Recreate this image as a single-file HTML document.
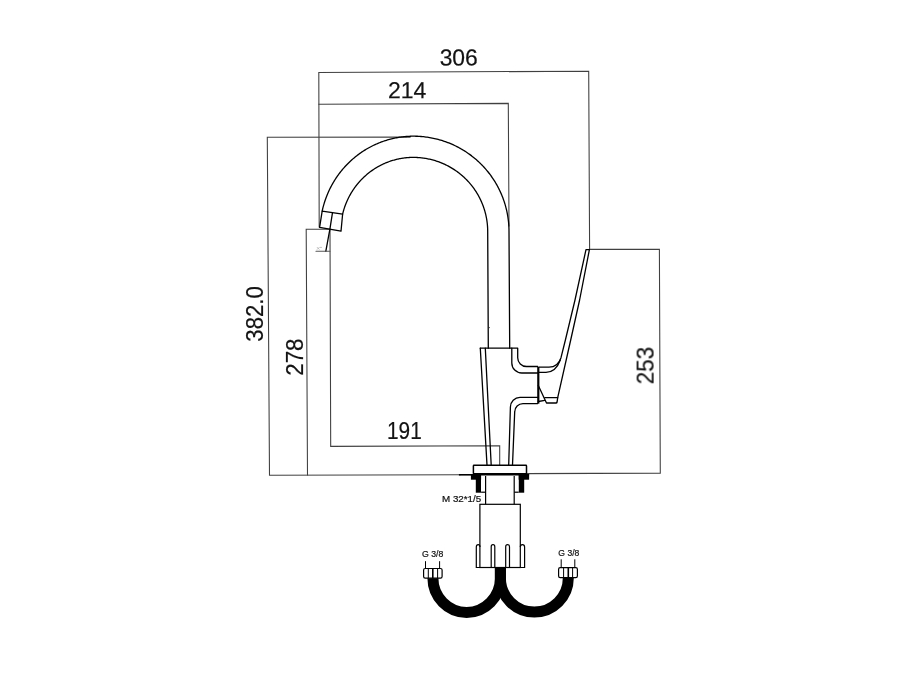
<!DOCTYPE html>
<html><head><meta charset="utf-8">
<style>
html,body{margin:0;padding:0;background:#fff;}
body{width:900px;height:679px;overflow:hidden;font-family:"Liberation Sans",sans-serif;}
svg{display:block;position:absolute;left:0;top:0;opacity:0.999;}
text{font-family:"Liberation Sans",sans-serif;}
</style></head>
<body>
<svg width="900" height="679" viewBox="0 0 900 679">
<rect width="900" height="679" fill="#fff"/>
<!-- dimension lines -->
<g fill="none" stroke="#404040" stroke-width="1.08" stroke-linecap="square">
<path d="M319.2,227 L318.8,72.5 L588.7,71.2 L589.6,249.4"/>
<path d="M318.9,104.2 L508.3,103.4 L509,226"/>
<path d="M410,137.1 L267.3,137.3 L269.5,475.2 L460,474.8"/>
<path d="M329.5,229.2 L306.2,229.2 L307.5,475"/>
<path d="M330,229.3 L330.7,446.4 L499.7,445.7 L499.7,465"/>
<path d="M589.4,249.4 L659.4,249.4 L660.3,473.1 L527,473.6"/>
</g>
<!-- faucet -->
<g fill="none" stroke="#000" stroke-width="1.3" stroke-linejoin="round" stroke-linecap="round">
<path d="M322.17,211.10 L322.40,210.05 L322.64,209.00 L322.90,207.96 L323.16,206.92 L323.44,205.88 L323.73,204.84 L324.03,203.81 L324.35,202.78 L324.67,201.76 L325.00,200.74 L325.35,199.72 L325.71,198.71 L326.08,197.70 L326.46,196.70 L326.85,195.70 L327.25,194.70 L327.66,193.71 L328.09,192.73 L328.52,191.75 L328.97,190.77 L329.43,189.80 L329.89,188.84 L330.37,187.88 L330.86,186.92 L331.36,185.98 L331.87,185.03 L332.39,184.10 L332.92,183.17 L333.46,182.24 L334.01,181.32 L334.57,180.41 L335.14,179.51 L335.72,178.61 L336.31,177.72 L336.91,176.83 L337.52,175.95 L338.15,175.08 L338.77,174.22 L339.41,173.36 L340.06,172.51 L340.72,171.67 L341.39,170.84 L342.07,170.01 L342.75,169.19 L343.45,168.38 L344.15,167.58 L344.86,166.79 L345.58,166.00 L346.31,165.22 L347.05,164.45 L347.80,163.69 L348.55,162.94 L349.32,162.20 L350.09,161.46 L350.87,160.74 L351.66,160.02 L352.45,159.32 L353.26,158.62 L354.07,157.93 L354.89,157.25 L355.71,156.58 L356.55,155.92 L357.39,155.27 L358.24,154.63 L359.09,154.00 L359.95,153.38 L360.82,152.76 L361.70,152.16 L362.58,151.57 L363.47,150.99 L364.36,150.42 L365.27,149.86 L366.17,149.31 L367.09,148.77 L368.01,148.24 L368.93,147.72 L369.86,147.22 L370.80,146.72 L371.74,146.23 L372.69,145.76 L373.64,145.29 L374.60,144.84 L375.56,144.40 L376.53,143.97 L377.50,143.55 L378.48,143.14 L379.46,142.74 L380.44,142.35 L381.43,141.98 L382.43,141.62 L383.43,141.26 L384.43,140.92 L385.43,140.60 L386.44,140.28 L387.45,139.97 L388.47,139.68 L389.49,139.40 L390.51,139.13 L391.53,138.87 L392.56,138.62 L393.59,138.39 L394.63,138.16 L395.66,137.95 L396.70,137.75 L397.74,137.56 L398.78,137.39 L399.82,137.23 L400.87,137.07 L401.92,136.93 L402.96,136.81 L404.01,136.69 L405.06,136.59 L406.12,136.50 L407.17,136.42 L408.22,136.35 L409.28,136.30 L410.33,136.25 L411.39,136.22 L412.44,136.21 L413.50,136.20 L414.75,136.21 L416.00,136.23 L417.25,136.27 L418.50,136.33 L419.75,136.40 L420.99,136.49 L422.24,136.60 L423.48,136.72 L424.72,136.86 L425.97,137.02 L427.20,137.19 L428.44,137.37 L429.67,137.58 L430.90,137.80 L432.13,138.03 L433.36,138.28 L434.58,138.55 L435.79,138.83 L437.01,139.13 L438.22,139.45 L439.42,139.78 L440.62,140.12 L441.82,140.49 L443.01,140.86 L444.20,141.26 L445.38,141.67 L446.55,142.09 L447.72,142.53 L448.89,142.98 L450.05,143.45 L451.20,143.94 L452.34,144.44 L453.48,144.95 L454.61,145.48 L455.74,146.03 L456.86,146.59 L457.97,147.16 L459.07,147.75 L460.16,148.35 L461.25,148.97 L462.33,149.60 L463.40,150.24 L464.46,150.90 L465.51,151.57 L466.56,152.26 L467.59,152.96 L468.62,153.67 L469.63,154.40 L470.64,155.14 L471.64,155.89 L472.62,156.66 L473.60,157.44 L474.57,158.23 L475.52,159.03 L476.47,159.85 L477.40,160.68 L478.33,161.52 L479.24,162.37 L480.14,163.24 L481.03,164.11 L481.91,165.00 L482.77,165.90 L483.63,166.81 L484.47,167.73 L485.30,168.66 L486.12,169.61 L486.92,170.56 L487.72,171.53 L488.50,172.50 L489.27,173.49 L490.02,174.48 L490.76,175.48 L491.49,176.50 L492.20,177.52 L492.91,178.55 L493.59,179.60 L494.27,180.65 L494.93,181.71 L495.57,182.77 L496.21,183.85 L496.82,184.93 L497.43,186.03 L498.02,187.13 L498.59,188.23 L499.15,189.35 L499.70,190.47 L500.23,191.60 L500.74,192.74 L501.24,193.88 L501.73,195.03 L502.20,196.19 L502.66,197.35 L503.10,198.52 L503.52,199.69 L503.93,200.87 L504.33,202.05 L504.70,203.24 L505.07,204.43 L505.41,205.63 L505.75,206.83 L506.06,208.04 L506.36,209.25 L506.65,210.47 L506.91,211.69 L507.16,212.91 L507.40,214.13 L507.62,215.36 L507.82,216.59 L508.01,217.83 L508.18,219.06 L508.34,220.30 L508.48,221.54 L508.60,222.78 L508.71,224.02 L508.80,225.27 L508.87,226.51 L508.93,227.76 L508.97,229.01 L508.99,230.25 L509.00,231.50 L509.7,348.2"/>
<path d="M342.61,214.20 L342.80,213.40 L343.00,212.60 L343.21,211.81 L343.43,211.01 L343.66,210.22 L343.90,209.43 L344.14,208.65 L344.40,207.86 L344.66,207.08 L344.93,206.31 L345.21,205.53 L345.50,204.76 L345.79,204.00 L346.10,203.23 L346.41,202.47 L346.73,201.71 L347.06,200.96 L347.40,200.21 L347.74,199.47 L348.10,198.73 L348.46,197.99 L348.83,197.25 L349.21,196.53 L349.59,195.80 L349.99,195.08 L350.39,194.36 L350.80,193.65 L351.21,192.95 L351.64,192.25 L352.07,191.55 L352.51,190.86 L352.96,190.17 L353.41,189.49 L353.88,188.81 L354.35,188.14 L354.82,187.47 L355.31,186.81 L355.80,186.16 L356.30,185.51 L356.80,184.87 L357.31,184.23 L357.83,183.60 L358.36,182.97 L358.89,182.35 L359.43,181.74 L359.98,181.13 L360.53,180.53 L361.09,179.93 L361.66,179.34 L362.23,178.76 L362.81,178.18 L363.40,177.62 L363.99,177.05 L364.58,176.50 L365.19,175.95 L365.80,175.41 L366.41,174.87 L367.03,174.34 L367.66,173.82 L368.29,173.31 L368.93,172.80 L369.57,172.30 L370.22,171.81 L370.88,171.32 L371.54,170.85 L372.20,170.38 L372.87,169.91 L373.55,169.46 L374.23,169.01 L374.91,168.57 L375.60,168.14 L376.29,167.72 L376.99,167.30 L377.69,166.90 L378.40,166.50 L379.11,166.10 L379.83,165.72 L380.55,165.34 L381.27,164.98 L382.00,164.62 L382.73,164.27 L383.47,163.92 L384.21,163.59 L384.95,163.27 L385.70,162.95 L386.45,162.64 L387.20,162.34 L387.96,162.05 L388.72,161.76 L389.48,161.49 L390.25,161.22 L391.02,160.97 L391.79,160.72 L392.56,160.48 L393.34,160.25 L394.12,160.03 L394.90,159.81 L395.68,159.61 L396.47,159.41 L397.26,159.23 L398.05,159.05 L398.84,158.88 L399.63,158.72 L400.43,158.57 L401.22,158.43 L402.02,158.30 L402.82,158.17 L403.62,158.06 L404.42,157.95 L405.23,157.86 L406.03,157.77 L406.84,157.69 L407.64,157.62 L408.45,157.57 L409.26,157.51 L410.07,157.47 L410.87,157.44 L411.68,157.42 L412.49,157.40 L413.30,157.40 L414.27,157.41 L415.25,157.43 L416.22,157.46 L417.19,157.50 L418.17,157.56 L419.14,157.63 L420.11,157.71 L421.08,157.81 L422.04,157.91 L423.01,158.03 L423.98,158.17 L424.94,158.31 L425.90,158.47 L426.86,158.64 L427.81,158.82 L428.77,159.02 L429.72,159.23 L430.67,159.45 L431.61,159.68 L432.56,159.92 L433.50,160.18 L434.43,160.45 L435.36,160.73 L436.29,161.03 L437.22,161.33 L438.14,161.65 L439.05,161.98 L439.96,162.32 L440.87,162.68 L441.77,163.04 L442.67,163.42 L443.56,163.81 L444.45,164.21 L445.33,164.62 L446.21,165.04 L447.08,165.48 L447.94,165.92 L448.80,166.38 L449.65,166.85 L450.50,167.33 L451.34,167.82 L452.17,168.32 L453.00,168.83 L453.82,169.35 L454.63,169.89 L455.44,170.43 L456.24,170.99 L457.03,171.55 L457.82,172.13 L458.59,172.71 L459.36,173.31 L460.12,173.91 L460.87,174.53 L461.62,175.15 L462.36,175.79 L463.08,176.43 L463.80,177.09 L464.51,177.75 L465.22,178.42 L465.91,179.10 L466.59,179.79 L467.27,180.49 L467.93,181.20 L468.59,181.92 L469.24,182.64 L469.87,183.38 L470.50,184.12 L471.12,184.87 L471.73,185.63 L472.33,186.39 L472.91,187.16 L473.49,187.95 L474.06,188.73 L474.61,189.53 L475.16,190.33 L475.70,191.14 L476.22,191.96 L476.74,192.78 L477.24,193.61 L477.73,194.45 L478.21,195.29 L478.68,196.14 L479.14,197.00 L479.59,197.86 L480.03,198.73 L480.45,199.60 L480.87,200.48 L481.27,201.36 L481.66,202.25 L482.04,203.14 L482.40,204.04 L482.76,204.94 L483.10,205.85 L483.43,206.76 L483.75,207.68 L484.06,208.60 L484.35,209.53 L484.64,210.45 L484.91,211.39 L485.16,212.32 L485.41,213.26 L485.64,214.20 L485.87,215.15 L486.07,216.09 L486.27,217.04 L486.45,218.00 L486.63,218.95 L486.78,219.91 L486.93,220.87 L487.06,221.83 L487.18,222.79 L487.29,223.75 L487.39,224.72 L487.47,225.69 L487.54,226.65 L487.60,227.62 L487.64,228.59 L487.67,229.56 L487.69,230.53 L487.70,231.50 L488.3,348.2"/>
<circle cx="489.1" cy="327.6" r="0.7" fill="#222" stroke="none"/>
<!-- aerator -->
<path d="M322.17,211.10 L342.61,214.20 L341,231.2 L319.6,227.3 Z"/>
<path d="M332.5,212.7 L329.9,229.2 L325.8,251.3"/>
<path d="M316,251.3 L329.9,251.3" stroke="#555" stroke-width="1.1"/>
<path d="M317.2,247.4 L319.2,249.4 M319.2,247.4 L317.2,249.4 M320.2,247.4 L321.6,247.4" stroke="#888" stroke-width="0.5"/>
<!-- body -->
<path d="M480.3,348.2 L517.7,348.2 L517.7,357.7 A8.8,8.8 0 0 0 526.5,366.5 L537.7,366.5"/>
<path d="M511.8,348.2 L511.8,363 A10,10 0 0 0 521.8,373 L537.7,373"/>
<path d="M480.3,348.2 L487,465"/>
<path d="M485.3,348.2 L491.2,465"/>
<path d="M537.7,397.4 L520,397.4 A9.6,9.6 0 0 0 510.4,407 L508.7,465"/>
<path d="M537.7,403.6 L523,403.6 A8.3,8.3 0 0 0 514.7,411.9 L512.5,465"/>
<path d="M538.3,367 L538.3,403.6" stroke-width="2.2" stroke-linecap="butt"/>
<!-- handle -->
<path d="M539,367.2 L549,367.2 C555,367.2 559,364 561,357.7 L565.4,340 L575,300 L586,249.6 L589.4,249.6 L579.6,300 L570.7,340 L557.7,397.7 L557.1,402 Q556.9,403 556,403 L546.5,403 L538.3,385.4"/>
<path d="M539,372.3 L546,372.3 C552,372.3 557,369 560.3,360"/>
<path d="M544.8,397.7 L557.7,397.7"/>
<path d="M538.3,401.5 L544.8,400.3"/>
</g>
<!-- base -->
<g stroke="#000" stroke-width="1.5" fill="#fff">
<rect x="473.4" y="465.3" width="53.1" height="8.5" rx="0.6"/>
</g>
<path d="M458.9,474.8 L473,474.8" stroke="#000" stroke-width="1.6" fill="none"/>
<g fill="#000" stroke="none">
<rect x="470.9" y="474" width="58.2" height="1.5"/>
<rect x="470.9" y="474" width="10.2" height="5.7"/>
<rect x="475.8" y="474" width="5.2" height="18.7"/>
<rect x="518.7" y="474" width="10.4" height="5.7"/>
<rect x="518.8" y="474" width="5.4" height="18.7"/>
</g>
<g fill="none" stroke="#000" stroke-width="1.2">
<path d="M481.1,492.2 L485.6,492.2"/>
<path d="M514.2,492.2 L518.7,492.2"/>
<path d="M485.6,476 L485.6,504.3 M514.2,476 L514.2,504.3"/>
<rect x="479.9" y="504.3" width="40.4" height="63.2"/>
<!-- nut -->
<path d="M480,567.5 L476.3,567.5 L476.3,547 Q476.3,544.7 478.2,544.7 Q480,544.7 480,547"/>
<path d="M520.3,567.5 L524.6,567.5 L524.6,547 Q524.6,544.7 522.4,544.7 Q520.3,544.7 520.3,547"/>
<path d="M491.2,567.5 L491.2,546.7 Q491.2,544.7 493,544.7 Q494.8,544.7 494.8,546.7 L494.8,567.5"/>
<path d="M505.7,567.5 L505.7,546.7 Q505.7,544.7 507.6,544.7 Q509.5,544.7 509.5,546.7 L509.5,567.5"/>
</g>
<!-- hoses -->
<g fill="none" stroke="#000" stroke-width="11">
<path d="M500.4,567.5 L500.4,578 A33.75,34.4 0 0 1 432.9,578"/>
<path d="M500.4,567.5 L500.4,578 A33.95,34 0 0 0 568.3,578"/>
</g>
<!-- end nuts -->
<g fill="#fff" stroke="#000" stroke-width="1.2">
<rect x="423.6" y="568.5" width="18.5" height="9.7" rx="1.6"/>
<rect x="558.6" y="567.7" width="18.8" height="10" rx="1.6"/>
</g>
<g fill="none" stroke="#000" stroke-width="1">
<path d="M428.3,568.1 L428.3,578.6 M437.6,568.1 L437.6,578.6"/>
<path d="M432.8,568.1 L432.8,578.6" stroke-width="1.6"/>
<path d="M425.5,561.2 L425.5,568 M439.6,561.2 L439.6,568"/>
<path d="M563.6,567.3 L563.6,578.1 M572.6,567.3 L572.6,578.1"/>
<path d="M568.3,567.3 L568.3,578.1" stroke-width="1.6"/>
<path d="M561.2,559.3 L561.2,567.2 M574.8,559.3 L574.8,567.2"/>
</g>
<!-- texts -->
<g fill="#111" stroke="#111" stroke-width="0.2" opacity="0.99">
<text transform="rotate(0.03 458 57)" x="439.65" y="65.4" font-size="23.2" textLength="38.2" lengthAdjust="spacingAndGlyphs">306</text>
<text transform="rotate(0.03 407 90)" x="387.9" y="98.35" font-size="23.2" textLength="38.34" lengthAdjust="spacingAndGlyphs">214</text>
<text transform="rotate(0.03 405 430)" x="387.0" y="438.7" font-size="23.2" textLength="34.7" lengthAdjust="spacingAndGlyphs">191</text>
<text transform="translate(262.6,341.7) rotate(-90)" font-size="23.2" textLength="55.5" lengthAdjust="spacingAndGlyphs">382.0</text>
<text transform="translate(302.6,375.8) rotate(-90)" font-size="23.2" textLength="37.33" lengthAdjust="spacingAndGlyphs">278</text>
<text transform="translate(653.6,384.3) rotate(-90)" font-size="23.2" textLength="37.33" lengthAdjust="spacingAndGlyphs">253</text>
<g fill="#111" stroke="#111" stroke-width="0.22">
<text x="442.0" y="502" font-size="9.2" textLength="39.2" lengthAdjust="spacingAndGlyphs">M 32*1/5</text>
<text x="422.04" y="557.1" font-size="8.6" textLength="21.3" lengthAdjust="spacingAndGlyphs">G 3/8</text>
<text x="558.33" y="555.7" font-size="8.6" textLength="21.0" lengthAdjust="spacingAndGlyphs">G 3/8</text>
</g>
</g>
</svg>
</body></html>
